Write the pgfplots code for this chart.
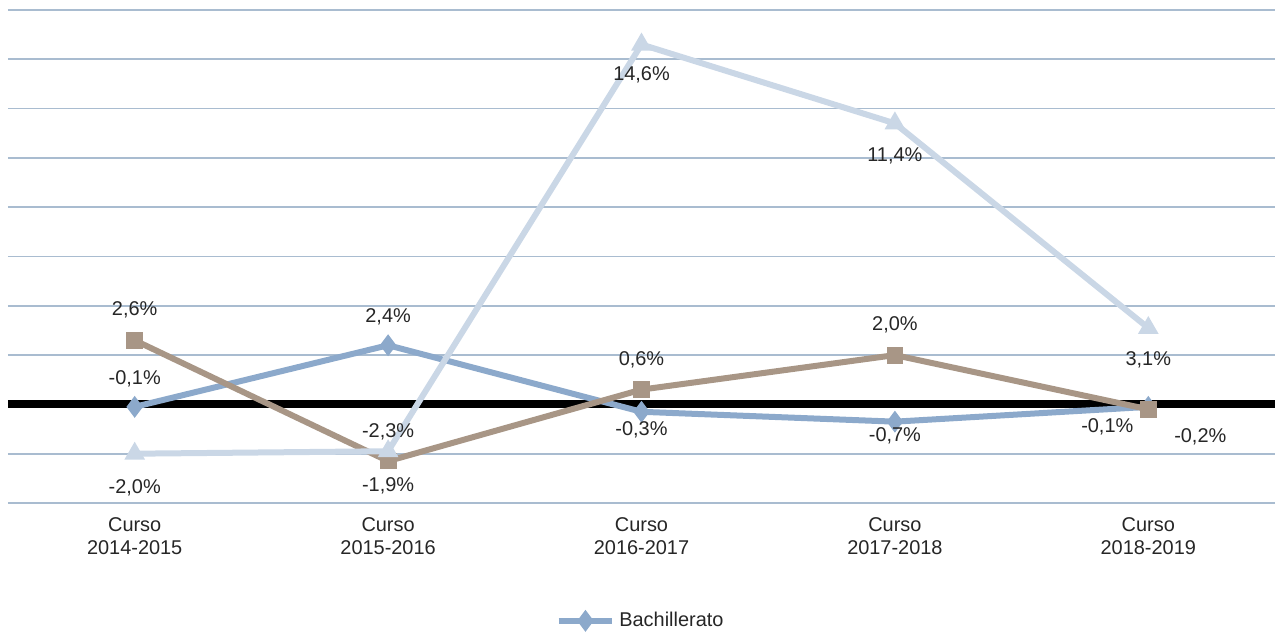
\documentclass[border=0pt]{standalone}
\usepackage{fontspec}
\setmainfont{Liberation Sans}
\usepackage{pgfplots}
\pgfplotsset{compat=1.18}

\definecolor{bach}{HTML}{8CA9CB}
\definecolor{brn}{HTML}{A89686}
\definecolor{lite}{HTML}{CAD7E6}
\definecolor{gridc}{HTML}{A9BCD0}
\definecolor{txt}{HTML}{262626}

% label offsets (dx, dy in bp) are read from the reference
\pgfplotstableread{
x y dx dy
0 -0.1 0 14
1 2.4 0 14
2 -0.3 0 -9
3 -0.7 0 -7
4 -0.1 -20.5 -10
}\bach
\pgfplotstableread{
x y dx dy
0 2.6 0 15
1 -2.3 0 14.5
2 0.6 0 15
3 2.0 0 15
4 -0.2 26 -13.5
}\fp
\pgfplotstableread{
x y dx dy
0 -2.0 0 -17
1 -1.9 0 -17.5
2 14.6 0 -15
3 11.4 0 -16
4 3.1 0 -16
}\eso

\begin{document}
\begin{tikzpicture}
\useasboundingbox (-4bp,-65.5bp) rectangle (633.5bp,251.5bp);
\begin{axis}[
  at={(0,0)}, anchor=south west, scale only axis,
  width=633.5bp, height=246.5bp,
  xmin=-0.5, xmax=4.5, ymin=-4, ymax=16,
  ytick={-4,-2,...,16}, yticklabels={},
  xtick={0,...,4},
  xticklabels={{Curso\\2014-2015},{Curso\\2015-2016},{Curso\\2016-2017},{Curso\\2017-2018},{Curso\\2018-2019}},
  xticklabel style={align=center, font=\fontsize{10}{11.5}\selectfont, text=txt, yshift=-4bp},
  major tick length=0, axis line style={draw=none},
  ymajorgrids, grid style={gridc, line width=0.8bp},
  clip=false,
  /pgf/number format/assume math mode=true,
  lbl/.style={
    nodes near coords={\pgfmathprintnumber[fixed,fixed zerofill,precision=1,use comma]{\pgfplotspointmeta}\%},
    visualization depends on={\thisrow{dx}\as\dx},
    visualization depends on={\thisrow{dy}\as\dy},
    every node near coord/.append style={anchor=center, inner sep=0pt,
      xshift=\dx bp, yshift=\dy bp, font=\fontsize{10}{12}\selectfont, text=txt},
  },
  legend style={at={(axis description cs:0.5,-0.239)}, anchor=center, draw=none,
    font=\fontsize{10}{12}\selectfont, text=txt},
  legend image code/.code={
    \draw[#1] (0cm,0cm) -- (0.95cm,0cm);
    \draw[#1, mark repeat=1] plot coordinates {(0.475cm,0cm)};
  },
]
\addplot[black, line width=4bp, forget plot] coordinates {(-0.5,0) (4.5,0)};
\addplot[bach, line width=3bp, mark=diamond*, mark size=3bp, lbl] table {\bach};
\addplot[brn, line width=3bp, mark=square*, mark size=2.7bp, lbl] table {\fp};
\addplot[lite, line width=3bp, mark=triangle*, mark size=3bp, lbl] table {\eso};
\legend{Bachillerato}
\end{axis}
\end{tikzpicture}
\end{document}
